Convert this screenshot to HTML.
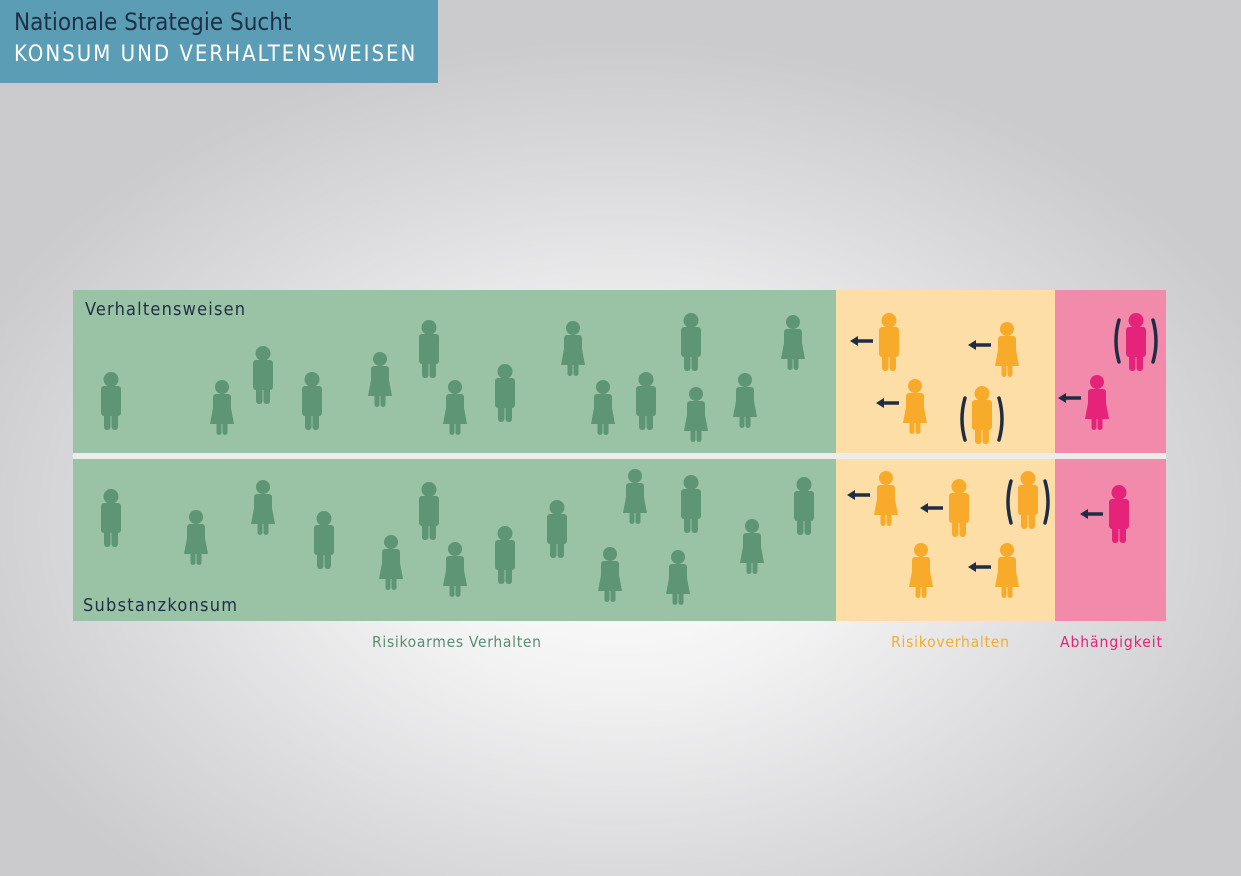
<!DOCTYPE html>
<html><head><meta charset="utf-8"><style>
html,body{margin:0;padding:0;}
body{width:1241px;height:876px;overflow:hidden;background:radial-gradient(ellipse 700px 480px at 620px 520px,#ffffff 0%,#f2f2f3 35%,#dcdcde 70%,#cbcbcd 100%);font-family:"DejaVu Sans Condensed","Liberation Sans",sans-serif;position:relative;}
.hdr{position:absolute;left:0;top:0;width:438px;height:83px;background:#5b9db5;}
.t1{position:absolute;left:14px;top:8px;font-size:24px;color:#1e2f48;white-space:nowrap;}
.t2{position:absolute;left:14px;top:42px;font-size:22px;color:#fff;letter-spacing:2px;white-space:nowrap;}
svg{position:absolute;left:0;top:0;}
</style></head><body>
<div class="hdr"><div class="t1">Nationale Strategie Sucht</div><div class="t2">KONSUM UND VERHALTENSWEISEN</div></div>
<svg width="1241" height="876" viewBox="0 0 1241 876">
<defs>
<g id="m"><circle cx="0" cy="7.5" r="7.5"/><rect x="-10" y="14" width="20" height="30" rx="3"/><rect x="-7" y="38" width="6.5" height="20" rx="3"/><rect x="0.5" y="38" width="6.5" height="20" rx="3"/></g>
<g id="w"><circle cx="0" cy="7" r="7"/><rect x="-9" y="14" width="18" height="20" rx="3"/><polygon points="-9,28 9,28 12,44 -12,44"/><rect x="-5.5" y="40" width="5" height="15" rx="2.5"/><rect x="0.5" y="40" width="5" height="15" rx="2.5"/></g>
<g id="a"><path d="M-34 25 H-16" stroke="#1f2d44" stroke-width="3.5"/><polygon points="-39,25 -31,20 -31,30" fill="#1f2d44"/></g>
<g id="b" fill="none" stroke="#1f2d44" stroke-width="3.5" stroke-linecap="round"><path d="M-17 12 Q-23 33 -17 54"/><path d="M17 12 Q23 33 17 54"/></g>
</defs>
<rect x="73" y="290" width="763" height="163" fill="#9ac2a5"/>
<rect x="73" y="459" width="763" height="162" fill="#9ac2a5"/>
<rect x="836" y="290" width="219" height="163" fill="#fddea7"/>
<rect x="836" y="459" width="219" height="162" fill="#fddea7"/>
<rect x="1055" y="290" width="111" height="163" fill="#f28bab"/>
<rect x="1055" y="459" width="111" height="162" fill="#f28bab"/>
<rect x="73" y="453" width="1093" height="6" fill="#ececec"/>
<g font-family="DejaVu Sans Condensed, Liberation Sans, sans-serif">
<text x="85" y="315" font-size="18" fill="#1e2f48" textLength="160">Verhaltensweisen</text>
<text x="83" y="611" font-size="18" fill="#1e2f48" textLength="154">Substanzkonsum</text>
<text x="372" y="647" font-size="15.5" fill="#5a8e6c" textLength="169">Risikoarmes Verhalten</text>
<text x="891" y="647" font-size="15.5" fill="#f6ad2c" textLength="118">Risikoverhalten</text>
<text x="1060" y="647" font-size="15.5" fill="#e6237a" textLength="102">Abhängigkeit</text>
</g>
<g fill="#5e9675">
<use href="#m" x="111" y="372"/><use href="#w" x="222" y="380"/><use href="#m" x="263" y="346"/><use href="#m" x="312" y="372"/><use href="#w" x="380" y="352"/><use href="#m" x="429" y="320"/><use href="#w" x="455" y="380"/><use href="#m" x="505" y="364"/><use href="#w" x="573" y="321"/><use href="#w" x="603" y="380"/><use href="#m" x="646" y="372"/><use href="#m" x="691" y="313"/><use href="#w" x="696" y="387"/><use href="#w" x="745" y="373"/><use href="#w" x="793" y="315"/>
<use href="#m" x="111" y="489"/><use href="#w" x="196" y="510"/><use href="#w" x="263" y="480"/><use href="#m" x="324" y="511"/><use href="#w" x="391" y="535"/><use href="#m" x="429" y="482"/><use href="#w" x="455" y="542"/><use href="#m" x="505" y="526"/><use href="#m" x="557" y="500"/><use href="#w" x="635" y="469"/><use href="#m" x="691" y="475"/><use href="#w" x="610" y="547"/><use href="#w" x="678" y="550"/><use href="#w" x="752" y="519"/><use href="#m" x="804" y="477"/>
</g>
<g fill="#f8ab2a">
<use href="#m" x="889" y="313"/><use href="#w" x="1007" y="322"/><use href="#w" x="915" y="379"/><use href="#m" x="982" y="386"/>
<use href="#w" x="886" y="471"/><use href="#m" x="959" y="479"/><use href="#m" x="1028" y="471"/><use href="#w" x="921" y="543"/><use href="#w" x="1007" y="543"/>
</g>
<g fill="#e6237a">
<use href="#m" x="1136" y="313"/><use href="#w" x="1097" y="375"/><use href="#m" x="1119" y="485"/>
</g>
<use href="#a" x="889" y="316"/><use href="#a" x="1007" y="320"/><use href="#a" x="915" y="378"/><use href="#b" x="982" y="386"/>
<use href="#b" x="1136" y="308"/><use href="#a" x="1097" y="373"/>
<use href="#a" x="886" y="470"/><use href="#a" x="959" y="483"/><use href="#b" x="1028" y="469"/><use href="#a" x="1007" y="542"/><use href="#a" x="1119" y="489"/>
</svg>
</body></html>
